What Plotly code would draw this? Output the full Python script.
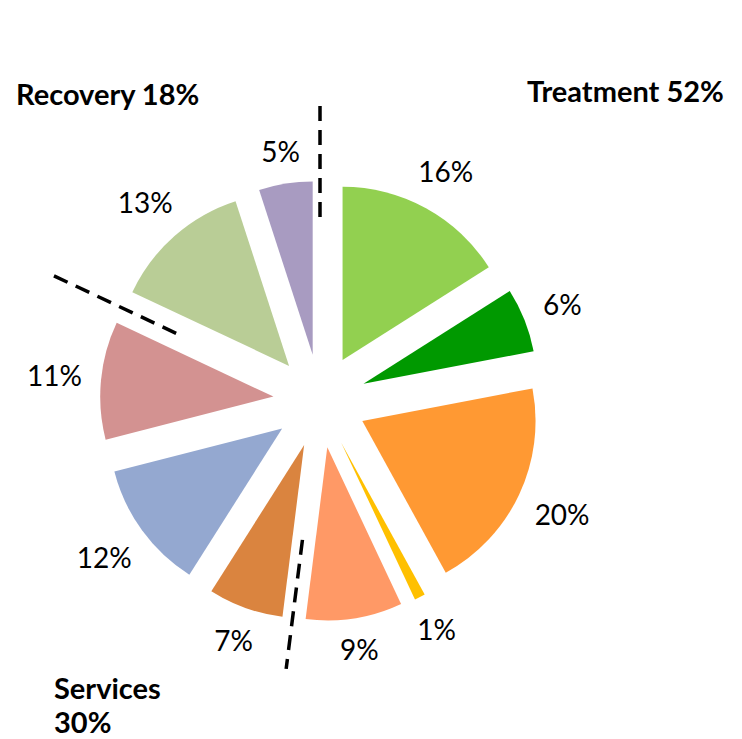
import math
import plotly.graph_objects as go

# ---- data ----
categories = ["T1", "T2", "T3", "T4", "T5", "S1", "S2", "S3", "R1", "R2"]
values = [16, 6, 20, 1, 9, 7, 12, 11, 13, 5]
colors = ["#92D050", "#009900", "#FF9933", "#FFC000", "#FF9966",
          "#DA843F", "#94A8D0", "#D39291", "#B9CD96", "#A89BC1"]
group_names = ["Treatment", "Services", "Recovery"]
group_sizes = [5, 3, 2]          # number of slices per group (in order)

# ---- layout geometry (screen pixels) ----
W, H = 742, 739
OFF = 8                          # page body margin
CX, CY = 320, 401
PULL = 0.27
R_OUT = 220                      # radius of pulled slice tips
LABEL_GAP = 240
FONT = "Lato"

total = sum(values)
cum = [0]
for v in values:
    cum.append(cum[-1] + v)

def ang(frac):
    return 2 * math.pi * frac

def pt(theta, r):
    return CX + r * math.sin(theta), CY - r * math.cos(theta)

fig = go.Figure()

fig.add_trace(go.Pie(
    labels=categories, values=values, sort=False, direction="clockwise",
    rotation=0, pull=[PULL] * len(values),
    marker=dict(colors=colors, line=dict(width=0)),
    textinfo="none", hoverinfo="none", showlegend=False,
    domain=dict(x=[(CX - OFF - R_OUT) / W, (CX - OFF + R_OUT) / W],
                y=[1 - (CY - OFF + R_OUT) / H, 1 - (CY - OFF - R_OUT) / H]),
))

# percentage labels, placed along each slice bisector
lx, ly, lt = [], [], []
for i, v in enumerate(values):
    th = ang((cum[i] + v / 2) / total)
    txt = f"{round(100 * v / total)}%"
    nd = len(txt) - 1
    w = 15 * nd + 22
    h = 19
    ext = abs(math.sin(th)) * w / 2 + abs(math.cos(th)) * h / 2
    x, y = pt(th, LABEL_GAP + ext)
    lx.append(x); ly.append(y + 3); lt.append(txt)
fig.add_trace(go.Scatter(x=lx, y=ly, text=lt, mode="text",
                         textfont=dict(family=FONT, size=28, color="#000000"),
                         hoverinfo="skip", showlegend=False))

# dashed group dividers at group boundaries
divider_extent = [(184, 304), (140, 270), (159, 298)]
idx = 0
bounds = []
for gs in group_sizes:
    bounds.append(cum[idx])
    idx += gs
for b, (r0, r1) in zip(bounds, divider_extent):
    th = ang(b / total)
    x0, y0 = pt(th, r0)
    x1, y1 = pt(th, r1)
    fig.add_trace(go.Scatter(x=[x0, x1], y=[y0, y1], mode="lines",
                             line=dict(color="#000000", width=3.5, dash="15px,9px"),
                             hoverinfo="skip", showlegend=False))

# group titles
group_pct = []
idx = 0
for gs in group_sizes:
    group_pct.append(round(100 * sum(values[idx:idx + gs]) / total))
    idx += gs
group_lines = [
    (f"{group_names[0]} {group_pct[0]}%", 526, 90),
    (f"{group_names[1]}", 53, 687),
    (f"{group_pct[1]}%", 53, 721),
    (f"{group_names[2]} {group_pct[2]}%", 15, 93),
]
for t, x, y in group_lines:
    fig.add_annotation(x=x, y=y, xref="x", yref="y", text=f"<b>{t}</b>",
                       showarrow=False, xanchor="left", yanchor="middle",
                       align="left", borderpad=0,
                       font=dict(family=FONT, size=29, color="#000000"))

fig.update_layout(
    width=W, height=H, margin=dict(l=0, r=0, t=0, b=0),
    paper_bgcolor="white", plot_bgcolor="rgba(0,0,0,0)",
    xaxis=dict(range=[OFF, W + OFF], visible=False, fixedrange=True),
    yaxis=dict(range=[H + OFF, OFF], visible=False, fixedrange=True),
    showlegend=False,
)

fig.write_html("out.html")
